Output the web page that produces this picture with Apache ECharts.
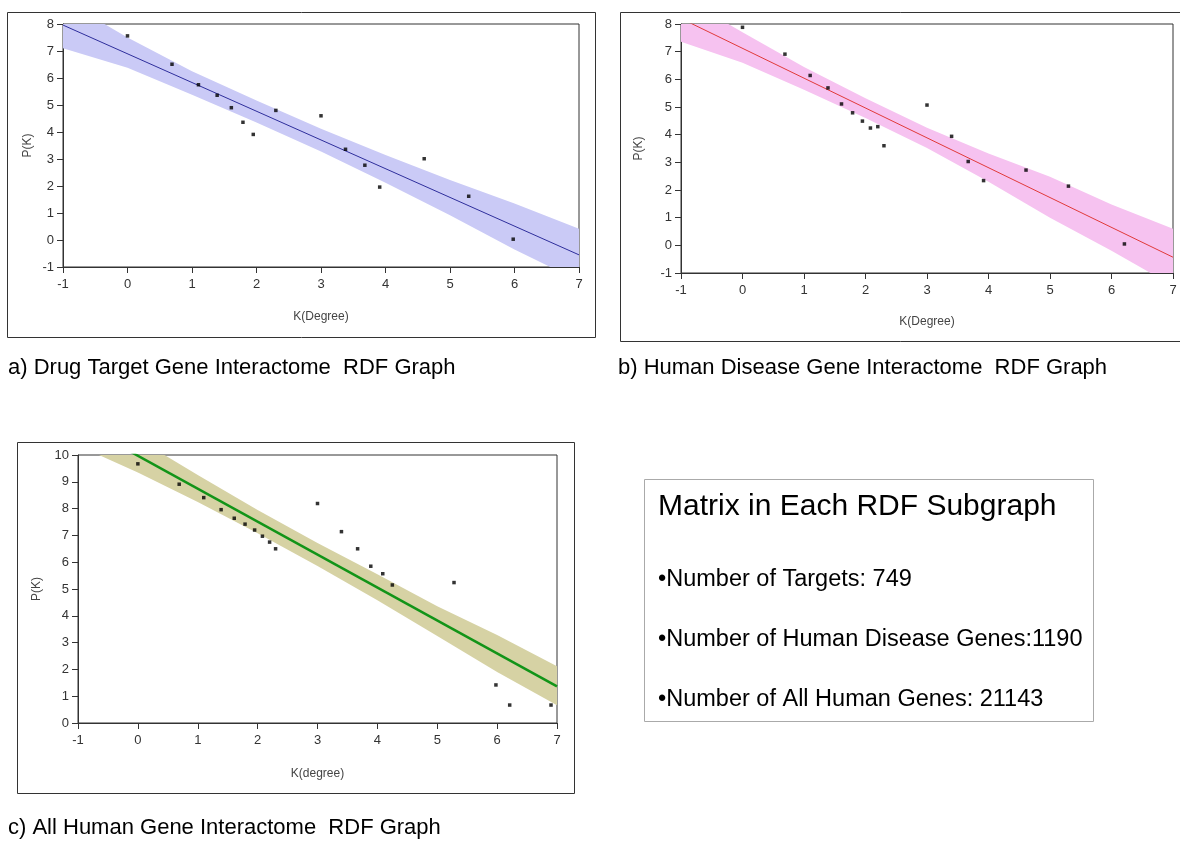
<!DOCTYPE html>
<html>
<head>
<meta charset="utf-8">
<script src="https://cdn.jsdelivr.net/npm/echarts@6/dist/echarts.min.js"></script>
<style>
  html, body { margin: 0; padding: 0; background: #fff; }
  #chart { width: 1180px; height: 844px; }
</style>
</head>
<body>
<div id="chart"></div>
<script>
// a) drug target genes: log degree vs log count
const drugK = [0, 0.69, 1.1, 1.39, 1.61, 1.79, 1.95, 2.3, 3.0, 3.38, 3.68, 3.91, 4.6, 5.29, 5.98]
const drugP = [7.56, 6.51, 5.75, 5.36, 4.90, 4.36, 3.91, 4.80, 4.60, 3.36, 2.77, 1.96, 3.01, 1.62, 0.03]
const drugFitP = [7.96, -0.55]
const drugBandHigh = [8.9, 7.5, 6.25, 5.17, 4.12, 3.15, 2.22, 1.35, 0.42]
const drugBandLow = [7.10, 6.38, 5.38, 4.35, 3.28, 2.12, 0.92, -0.35, -1.52]

// b) human disease genes
const diseaseK = [0, 0.69, 1.1, 1.39, 1.61, 1.79, 1.95, 2.08, 2.2, 2.3, 3.0, 3.4, 3.67, 3.92, 4.61, 5.3, 6.21]
const diseaseP = [7.88, 6.91, 6.14, 5.69, 5.11, 4.79, 4.49, 4.24, 4.29, 3.60, 5.07, 3.94, 3.03, 2.34, 2.72, 2.14, 0.05]
const diseaseFitP = [8.2, -0.43]
const diseaseBandHigh = [9.0, 7.70, 6.45, 5.32, 4.25, 3.32, 2.48, 1.48, 0.60]
const diseaseBandLow = [7.36, 6.60, 5.62, 4.60, 3.52, 2.30, 1.00, -0.20, -1.46]

// c) all human genes
const allK = [0, 0.69, 1.1, 1.39, 1.61, 1.79, 1.95, 2.08, 2.2, 2.3, 3.0, 3.4, 3.67, 3.89, 4.09, 4.25, 5.28, 5.98, 6.21, 6.9]
const allP = [9.67, 8.91, 8.41, 7.96, 7.64, 7.42, 7.20, 6.97, 6.75, 6.50, 8.19, 7.14, 6.50, 5.85, 5.57, 5.15, 5.24, 1.42, 0.67, 0.67]
const allFitP = [11.2, 1.37]
const allBandHigh = [12.0, 10.6, 9.25, 7.95, 6.72, 5.55, 4.36, 3.28, 2.12]
const allBandLow = [10.35, 9.35, 8.25, 7.08, 5.86, 4.58, 3.25, 1.90, 0.66]

const fitK = [-1, 7]
const bandK = [-1, 0, 1, 2, 3, 4, 5, 6, 7]

const captions = [
  'a) Drug Target Gene Interactome  RDF Graph',
  'b) Human Disease Gene Interactome  RDF Graph',
  'c) All Human Gene Interactome  RDF Graph'
]
const boxTitle = 'Matrix in Each RDF Subgraph'
const boxLines = [
  '•Number of Targets: 749',
  '•Number of Human Disease Genes:1190',
  '•Number of All Human Genes: 21143'
]

const FONT = '"Liberation Sans", Arial, sans-serif'
const AXIS = '#333'

function zip(xs, ys) {
  return xs.map((x, i) => [x, ys[i]])
}

function xAxisOf(idx, name, gap) {
  return {
    type: 'value', gridIndex: idx, min: -1, max: 7, interval: 1,
    name: name, nameLocation: 'middle', nameGap: gap,
    nameTextStyle: { color: '#444', fontSize: 12, fontFamily: FONT },
    axisLine: { onZero: false, lineStyle: { color: AXIS } },
    axisTick: { length: 6, lineStyle: { color: AXIS } },
    axisLabel: { color: '#333', fontSize: 13, fontFamily: FONT, margin: 11 },
    splitLine: { show: false }
  }
}

function yAxisOf(idx, min, max, gap) {
  return {
    type: 'value', gridIndex: idx, min: min, max: max, interval: 1,
    name: 'P(K)', nameLocation: 'middle', nameGap: gap,
    nameTextStyle: { color: '#444', fontSize: 12, fontFamily: FONT },
    axisLine: { onZero: false, lineStyle: { color: AXIS } },
    axisTick: { length: 6, lineStyle: { color: AXIS } },
    axisLabel: { color: '#333', fontSize: 13, fontFamily: FONT, margin: 9 },
    splitLine: { show: false }
  }
}

// confidence band as one polygon, clipped to the plot rect
function bandSeries(idx, lo, hi, color) {
  return {
    type: 'custom', xAxisIndex: idx, yAxisIndex: idx, silent: true, z: 1,
    data: [[bandK[0], lo[0]]],
    renderItem: function (params, api) {
      const upper = bandK.map((x, i) => api.coord([x, hi[i]]))
      const lower = bandK.map((x, i) => api.coord([x, lo[i]])).reverse()
      const cs = params.coordSys
      return {
        type: 'polygon',
        shape: { points: upper.concat(lower) },
        style: { fill: color },
        clipPath: { type: 'rect', shape: { x: cs.x, y: cs.y, width: cs.width, height: cs.height } }
      }
    }
  }
}

function fitSeries(idx, ys, color, width) {
  return {
    type: 'line', xAxisIndex: idx, yAxisIndex: idx, z: 3,
    data: zip(fitK, ys), symbol: 'none', clip: true,
    lineStyle: { color: color, width: width }
  }
}

function pointSeries(idx, xs, ys) {
  return {
    type: 'scatter', xAxisIndex: idx, yAxisIndex: idx, z: 4,
    data: zip(xs, ys), symbol: 'rect', symbolSize: 3.5,
    itemStyle: { color: '#000' }
  }
}

function text(x, y, str, size) {
  return {
    type: 'text', x: x, y: y,
    style: { text: str, fill: '#000', font: size + 'px ' + FONT, textVerticalAlign: 'middle' }
  }
}

function box(x, y, w, h, stroke) {
  return {
    type: 'rect', shape: { x: x, y: y, width: w, height: h },
    style: { fill: 'none', stroke: stroke, lineWidth: 1 }
  }
}

const chart = echarts.init(document.getElementById('chart'))

const gridStyle = { show: true, backgroundColor: '#fff', borderColor: AXIS, borderWidth: 1 }

chart.setOption({
  backgroundColor: '#fff',
  animation: false,
  grid: [
    Object.assign({ left: 63, top: 24, width: 516, height: 243 }, gridStyle),
    Object.assign({ left: 681, top: 24, width: 492, height: 249 }, gridStyle),
    Object.assign({ left: 78, top: 455, width: 479, height: 268 }, gridStyle)
  ],
  xAxis: [
    xAxisOf(0, 'K(Degree)', 44),
    xAxisOf(1, 'K(Degree)', 43),
    xAxisOf(2, 'K(degree)', 45)
  ],
  yAxis: [
    yAxisOf(0, -1, 8, 29),
    yAxisOf(1, -1, 8, 36),
    yAxisOf(2, 0, 10, 35)
  ],
  series: [
    bandSeries(0, drugBandLow, drugBandHigh, '#cacaf6'),
    fitSeries(0, drugFitP, '#2e2e9c', 1),
    pointSeries(0, drugK, drugP),

    bandSeries(1, diseaseBandLow, diseaseBandHigh, '#f6c2f0'),
    fitSeries(1, diseaseFitP, '#e03a3a', 1),
    pointSeries(1, diseaseK, diseaseP),

    bandSeries(2, allBandLow, allBandHigh, '#d6d2a4'),
    fitSeries(2, allFitP, '#129418', 2.5),
    pointSeries(2, allK, allP)
  ],
  graphic: [
    box(7.5, 12.5, 588, 325, '#333'),
    box(620.5, 12.5, 570, 329, '#333'),
    box(17.5, 442.5, 557, 351, '#333'),
    box(644.5, 479.5, 449, 242, '#aaa'),
    text(8, 368, captions[0], 22),
    text(618, 368, captions[1], 22),
    text(8, 828, captions[2], 22),
    text(658, 507, boxTitle, 30),
    text(658, 580, boxLines[0], 23.5),
    text(658, 640, boxLines[1], 23.5),
    text(658, 700, boxLines[2], 23.5)
  ]
})
</script>
</body>
</html>
